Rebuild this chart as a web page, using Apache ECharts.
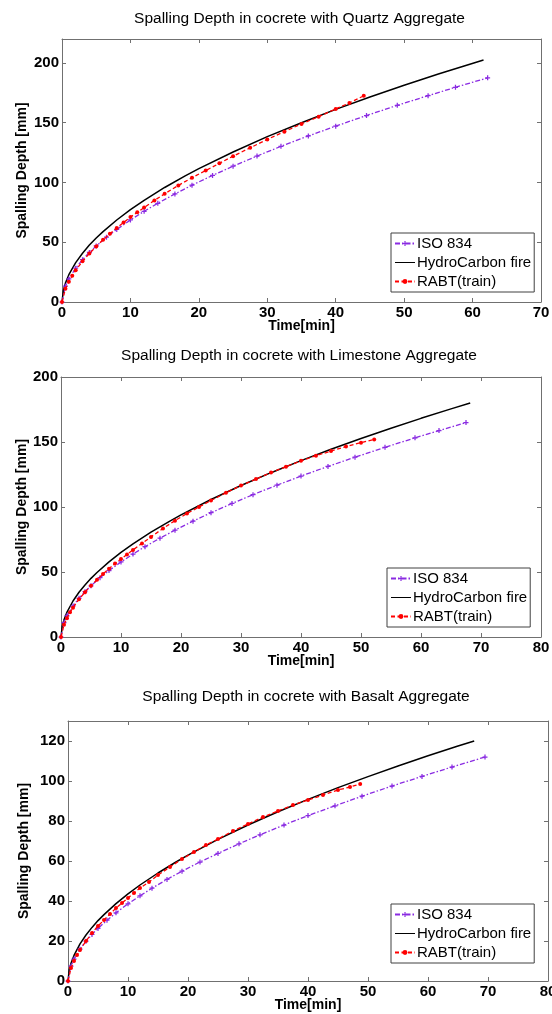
<!DOCTYPE html>
<html><head><meta charset="utf-8">
<script src="https://cdn.jsdelivr.net/npm/echarts@6/dist/echarts.min.js"></script>
<style>html,body{margin:0;padding:0;background:#fff}#c{width:552px;height:1014px}</style>
</head><body><div id="c"></div>
<script>
// ---- texts ----
const titles = [
  'Spalling Depth in cocrete with Quartz Aggregate',
  'Spalling Depth in cocrete with Limestone Aggregate',
  'Spalling Depth in cocrete with Basalt Aggregate'
];
const xName = 'Time[min]';
const yName = 'Spalling Depth [mm]';
const seriesNames = ['ISO 834', 'HydroCarbon fire', 'RABT(train)'];
const xMax = [70, 80, 80];
const yMax = [220, 200, 130];
const yInterval = [50, 50, 20];
const xInterval = 10;

// ---- Quartz ----
const quartzIsoT = [0,0.5,1,2,3,4,5,6.5,8,10,12,14,16.5,19,22,25,28.5,32,36,40,44.5,49,53.5,57.5,62.2];
const quartzIsoV = [0,13.2,19.3,28.3,35.4,41.5,46.9,54.2,60.7,68.6,75.9,82.6,90.4,97.7,105.9,113.6,122.1,130.2,138.9,147.1,156.0,164.5,172.6,179.6,187.5];
const quartzHcT = [0,0.2,0.5,1,2,3,4,5,6,8,10,12,15,18,20,25,30,35,40,45,50,55,61.6];
const quartzHcV = [0,9.7,15.8,22.8,32.9,40.8,47.6,53.5,58.9,68.6,77.3,85.1,95.8,105.5,111.6,125.5,138.3,150.0,161.1,171.5,181.3,190.7,202.5];
const quartzRabtT = [0,0.5,1,1.5,2,3,4,5,6,7,8,9,10,11,12,13.5,15,17,19,21,23,25,27.5,30,32.5,35,37.5,40,42,44.1];
const quartzRabtV = [0,11,17,22,26.5,34,40.5,46.5,52,57,62,66.5,71,75,79,85,90.5,97.5,104,110,116,122,129,136,142.5,149,155,161.5,166.5,172.5];

// ---- Limestone ----
const limeIsoT = [0,0.5,1,2,3,4,5,6.5,8,10,12,14,16.5,19,22,25,28.5,32,36,40,44.5,49,54,59,63,67.5];
const limeIsoV = [0,11.1,16.3,23.8,29.8,34.9,39.4,45.6,51.1,57.7,63.8,69.5,76.0,82.2,89.1,95.6,102.7,109.5,116.8,123.8,131.2,138.3,145.9,153.2,158.8,165];
const limeHcT = [0,0.2,0.5,1,2,3,4,5,6,8,10,12,15,18,20,25,30,35,40,45,50,55,60,65,68.2];
const limeHcV = [0,8.2,13.3,19.2,27.7,34.4,40.0,45.1,49.6,57.8,65.1,71.7,80.7,88.8,94.0,105.8,116.5,126.4,135.7,144.4,152.7,160.6,168.2,175.5,180];
const limeRabtT = [0,0.5,1,1.5,2,3,4,5,6,7,8,9,10,11,12,13.5,15,17,19,21,23,25,27.5,30,32.5,35,37.5,40,42.5,45,47.5,50,52.2];
const limeRabtV = [0,9.5,14.5,19,22.5,29,34.5,39.5,44,48.5,52.5,56.5,60,63.5,67,72,77,83.5,89.5,95,100,105,111,116.5,121.5,126.5,131,135.5,139.5,143,146.5,149.5,152];

// ---- Basalt ----
const basaltIsoT = [0,0.5,1,2,3,4,5,6.5,8,10,12,14,16.5,19,22,25,28.5,32,36,40,44.5,49,54,59,64,69.5];
const basaltIsoV = [0,7.4,10.9,15.9,19.9,23.3,26.3,30.4,34.1,38.6,42.6,46.4,50.8,54.9,59.5,63.8,68.6,73.1,78.0,82.7,87.6,92.4,97.5,102.3,107.0,112];
const basaltHcT = [0,0.2,0.5,1,2,3,4,5,6,8,10,12,15,18,20,25,30,35,40,45,50,55,60,65,67.7];
const basaltHcV = [0,5.5,8.9,12.8,18.6,23.0,26.8,30.2,33.2,38.7,43.6,48.0,54.0,59.5,62.9,70.8,78.0,84.6,90.8,96.7,102.2,107.5,112.6,117.5,120];
const basaltRabtT = [0,0.5,1,1.5,2,3,4,5,6,7,8,9,10,11,12,13.5,15,17,19,21,23,25,27.5,30,32.5,35,37.5,40,42.5,45,47,48.7];
const basaltRabtV = [0,6.5,10,13,15.5,20,24,27.5,30.5,33.5,36.5,39,41.5,44,46.5,49.5,53,57,61,64.5,68,71,75,78.5,82,85,88,90.5,93,95.5,97,98.5];

const panels = [
  [[quartzIsoT, quartzIsoV], [quartzHcT, quartzHcV], [quartzRabtT, quartzRabtV]],
  [[limeIsoT, limeIsoV], [limeHcT, limeHcV], [limeRabtT, limeRabtV]],
  [[basaltIsoT, basaltIsoV], [basaltHcT, basaltHcV], [basaltRabtT, basaltRabtV]]
];

// ---- layout ----
const grids = [
  {left: 62, top: 39, width: 479, height: 263},
  {left: 61, top: 377, width: 480, height: 260},
  {left: 68, top: 721, width: 480, height: 260}
];
const yNameGap = [33, 32, 37];
const legendPos = [
  {left: 391, top: 233},
  {left: 387, top: 568},
  {left: 391, top: 904}
];
const titleY = [19, 356, 697];

const FONT = 'Liberation Sans, Arial, sans-serif';
const AXC = '#707070';
const plusPath = 'path://M3,0H5V3H8V5H5V8H3V5H0V3H3Z';
const solidIcon = 'path://M0,0H0.01V0.01H0ZM0,2.4H20V3.6H0ZM19.99,5.99H20V6H19.99Z';
const colors = ['#8a2be2', '#000000', '#ff0000'];

const zip = (t, v) => t.map((x, i) => [x, v[i]]);

const option = {
  animation: false,
  backgroundColor: '#fff',
  grid: grids.map(g => Object.assign({containLabel: false, outerBoundsMode: 'none'}, g)),
  xAxis: [], yAxis: [], series: [], legend: [], graphic: []
};

grids.forEach((g, k) => {
  const labelStyle = {color: '#000', fontFamily: FONT, fontWeight: 'bold', fontSize: 15};
  const lineStyle = {lineStyle: {color: AXC, width: 1}};
  option.xAxis.push({
    type: 'value', gridIndex: k, min: 0, max: xMax[k], interval: xInterval, position: 'bottom',
    name: xName, nameLocation: 'middle', nameGap: 17, nameMoveOverlap: false,
    nameTextStyle: {color: '#000', fontFamily: FONT, fontWeight: 'bold', fontSize: 14, verticalAlign: 'top'},
    axisLine: Object.assign({show: true, onZero: false}, lineStyle),
    axisTick: {show: true, inside: true, length: 4, lineStyle: {color: AXC}},
    axisLabel: Object.assign({margin: 3}, labelStyle),
    splitLine: {show: false}
  });
  option.xAxis.push({
    type: 'value', gridIndex: k, min: 0, max: xMax[k], interval: xInterval, position: 'top',
    axisLine: Object.assign({show: true, onZero: false}, lineStyle),
    axisTick: {show: true, inside: true, length: 4, lineStyle: {color: AXC}},
    axisLabel: {show: false}, splitLine: {show: false}
  });
  const yi = yInterval[k];
  option.yAxis.push({
    type: 'value', gridIndex: k, min: 0, max: yMax[k], interval: yi, position: 'left',
    name: yName, nameLocation: 'middle', nameGap: yNameGap[k], nameRotate: 90, nameMoveOverlap: false,
    nameTextStyle: {color: '#000', fontFamily: FONT, fontWeight: 'bold', fontSize: 14},
    axisLine: Object.assign({show: true, onZero: false}, lineStyle),
    axisTick: {show: true, inside: true, length: 4, lineStyle: {color: AXC}},
    axisLabel: Object.assign({margin: 3, formatter: v => (v % yi === 0 ? String(v) : '')}, labelStyle),
    splitLine: {show: false}
  });
  option.yAxis.push({
    type: 'value', gridIndex: k, min: 0, max: yMax[k], interval: yi, position: 'right',
    axisLine: Object.assign({show: true, onZero: false}, lineStyle),
    axisTick: {show: true, inside: true, length: 4, lineStyle: {color: AXC}},
    axisLabel: {show: false}, splitLine: {show: false}
  });

  const [iso, hc, rabt] = panels[k];
  option.series.push({
    name: seriesNames[0], type: 'line', xAxisIndex: 2 * k, yAxisIndex: 2 * k,
    data: zip(iso[0], iso[1]), symbol: plusPath, symbolSize: 5, showSymbol: true,
    itemStyle: {color: colors[0]},
    lineStyle: {color: colors[0], width: 1.3, type: [5, 2, 1.5, 2]}, z: 3
  });
  option.series.push({
    name: seriesNames[1], type: 'line', xAxisIndex: 2 * k, yAxisIndex: 2 * k,
    data: zip(hc[0], hc[1]), symbol: 'none', smooth: false,
    itemStyle: {color: colors[1]},
    lineStyle: {color: colors[1], width: 1.5, type: 'solid'}, z: 2
  });
  option.series.push({
    name: seriesNames[2], type: 'line', xAxisIndex: 2 * k, yAxisIndex: 2 * k,
    data: zip(rabt[0], rabt[1]), symbol: 'circle', symbolSize: 4, showSymbol: true,
    itemStyle: {color: colors[2]},
    lineStyle: {color: colors[2], width: 1.3, type: [4, 2.5]}, z: 4
  });

  option.legend.push({
    orient: 'vertical', left: legendPos[k].left, top: legendPos[k].top,
    data: [
      {name: seriesNames[0]},
      {name: seriesNames[1], icon: solidIcon, itemStyle: {color: '#000', borderWidth: 0}},
      {name: seriesNames[2]}
    ],
    itemWidth: 20, itemHeight: 6, itemGap: 2,
    padding: [2, 3, 2, 3], borderColor: '#404040', borderWidth: 1, backgroundColor: '#fff',
    textStyle: {color: '#000', fontFamily: FONT, fontSize: 15, lineHeight: 17, padding: [0, 0, 0, -3]},
    selectedMode: false
  });

  option.graphic.push({
    type: 'text', x: g.left + g.width / 2 - 2, y: titleY[k], z: 10,
    style: {text: titles[k], textAlign: 'center', textVerticalAlign: 'middle',
      font: '15.5px ' + FONT, fill: '#000'}
  });
});

const chart = echarts.init(document.getElementById('c'), null, {renderer: 'canvas'});
chart.setOption(option);
</script>
</body></html>
